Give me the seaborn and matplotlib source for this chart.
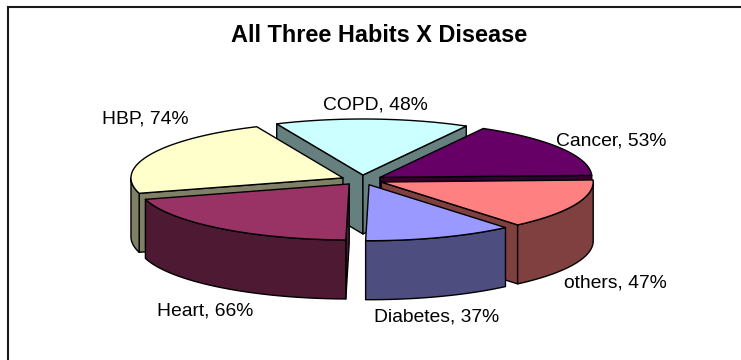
import numpy as np
import pandas as pd
import matplotlib
matplotlib.use("Agg")
import matplotlib.pyplot as plt
from matplotlib.patches import Polygon
import seaborn as sns

# Survey results, clockwise from the top slice
diseases = ["COPD", "Cancer", "others", "Diabetes", "Heart", "HBP"]
percents = [48, 53, 47, 37, 66, 74]
top_colors = ["#CCFFFF", "#660066", "#FF8080", "#9999FF", "#993366", "#FFFFCC"]
side_colors = ["#667F7F", "#330033", "#804040", "#4D4D80", "#4D1933", "#808066"]

# Back-to-front painting order for the exploded slices
paint_order = ["COPD", "Cancer", "HBP", "others", "Heart", "Diabetes"]

# Label anchors (centre x, centre y) in the axes' pixel scale
label_anchors = {
    "COPD": (375, 105.5), "Cancer": (611.5, 141.5), "others": (615.5, 282.5),
    "Diabetes": (437, 317), "Heart": (205.5, 310.5), "HBP": (145.5, 118.5),
}

CX, CY = 362, 180     # pie centre
RX, RY = 212, 56      # tilted ellipse radii
DEPTH = 59            # thickness of the pie
PULL_X, PULL_Y = 21, 5  # explosion distance
START_ANGLE = 114

sns.set_theme(style="white")
plt.rcParams["font.family"] = ["Liberation Sans", "DejaVu Sans"]

df = pd.DataFrame({"disease": diseases, "percent": percents,
                   "top": top_colors, "side": side_colors})
spans = df["percent"] / df["percent"].sum() * 360
df["t_start"] = START_ANGLE - spans.cumsum().shift(fill_value=0)
df["t_end"] = df["t_start"] - spans
df = df.set_index("disease")

fig, ax = plt.subplots(figsize=(7.41, 3.6), dpi=100)
fig.subplots_adjust(0, 0, 1, 1)
ax.set_xlim(0, 741)
ax.set_ylim(360, 0)
ax.set_axis_off()

# Chart frame, open at the right and bottom edges of the image
ax.plot([7.5, 7.5, 741], [360, 7, 7], color="#1a1a1a", lw=1.5, zorder=1,
        solid_joinstyle="miter")


def rim_points(px, py, t0, t1):
    t = np.radians(np.linspace(t0, t1, 120))
    return np.column_stack([px + RX * np.cos(t), py - RY * np.sin(t)])


def add_poly(points, color, z):
    ax.add_patch(Polygon(points, closed=True, facecolor=color, edgecolor="black",
                         lw=1.0, joinstyle="round", zorder=z))


def face_visible(edge_deg, mid_deg):
    # A cut face shows when the slice's interior lies behind that edge
    e, m = np.radians(edge_deg), np.radians(mid_deg)
    return np.sin(m) - np.cos(m - e) * np.sin(e) > 0


z = 2
for name in paint_order:
    row = df.loc[name]
    mid_deg = (row.t_start + row.t_end) / 2
    mid = np.radians(mid_deg)
    px = CX + PULL_X * np.cos(mid)
    py = CY - PULL_Y * np.sin(mid)
    apex = np.array([px, py])
    down = np.array([0, DEPTH])
    rim = rim_points(px, py, row.t_start, row.t_end)

    # Cut faces, drawn first so the rim and top overlap them
    for edge, edge_deg in ((rim[0], row.t_start), (rim[-1], row.t_end)):
        if face_visible(edge_deg, mid_deg):
            add_poly([apex, edge, edge + down, apex + down], row.side, z)
            z += 1

    # Outer wall: only the part of the rim that faces the viewer
    t = np.linspace(row.t_start, row.t_end, 120)
    front = rim[np.sin(np.radians(t)) < 0]
    if len(front):
        add_poly(np.vstack([front, (front + down)[::-1]]), row.side, z)
        z += 1

    add_poly(np.vstack([apex, rim]), row.top, z)
    z += 1

ax.text(379.5, 36, "All Three Habits X Disease", ha="center", va="center",
        fontsize=16.9, fontweight="bold", color="black", zorder=z)
for name, pct in zip(diseases, percents):
    x, y = label_anchors[name]
    ax.text(x, y, f"{name}, {pct}%", ha="center", va="center",
            fontsize=13.9, color="black", zorder=z)

fig.savefig("out.png", dpi=100, facecolor="white")
